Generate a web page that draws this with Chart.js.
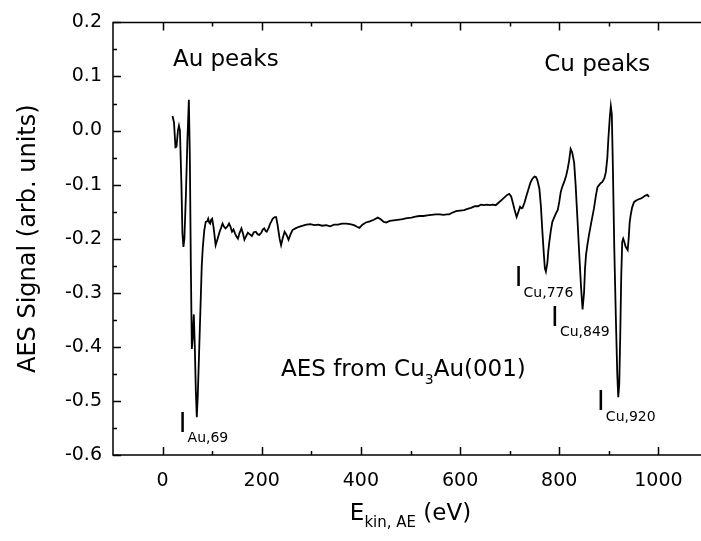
<!DOCTYPE html>
<html>
<head>
<meta charset="utf-8">
<script src="https://cdn.jsdelivr.net/npm/chart.js@4.4.1/dist/chart.umd.min.js"></script>
<style>
  html, body { margin: 0; padding: 0; background: #fff; overflow: hidden; }
  canvas { display: block; }
</style>
</head>
<body>
<canvas id="aesChart" width="720" height="541" style="width:720px;height:541px"></canvas>
<script>
// kinetic energy (eV) and AES signal
const energy = [20, 23, 26, 28, 31, 33, 35, 38, 40, 42, 44, 47, 50, 53, 55, 57, 59, 61, 63, 65, 67, 69, 71, 74, 77, 79, 81, 84, 87, 90, 92, 94, 96, 98, 100, 103, 107, 111, 115, 118, 121, 124, 127, 131, 134, 137, 140, 143, 146, 149, 152, 155, 159, 162, 165, 168, 172, 176, 180, 184, 188, 192, 195, 199, 202, 205, 208, 210, 214, 217, 219, 222, 226, 229, 232, 236, 239, 242, 246, 250, 254, 258, 262, 268, 275, 283, 290, 298, 306, 314, 322, 330, 338, 346, 354, 362, 370, 378, 386, 392, 397, 403, 410, 418, 426, 434, 440, 446, 451, 458, 466, 474, 484, 493, 502, 510, 518, 526, 534, 542, 551, 559, 567, 573, 578, 584, 592, 600, 608, 615, 622, 630, 636, 642, 648, 654, 660, 666, 672, 678, 683, 689, 695, 699, 703, 706, 710, 714, 717, 721, 724, 726, 730, 734, 738, 742, 746, 750, 753, 756, 760, 763, 766, 769, 771, 773, 776, 778, 780, 783, 786, 790, 794, 797, 800, 803, 806, 810, 814, 817, 820, 823, 826, 830, 833, 837, 841, 844, 847, 850, 852, 854, 857, 860, 865, 870, 874, 877, 881, 884, 887, 891, 894, 897, 899, 902, 904, 906, 908, 911, 914, 917, 919, 921, 923, 925, 927, 929, 931, 934, 938, 940, 942, 944, 947, 951, 956, 960, 964, 968, 972, 975, 978, 981];
const signal = [0.027, 0.015, -0.031, -0.030, 0.000, 0.009, 0.000, -0.100, -0.190, -0.215, -0.200, -0.120, -0.020, 0.057, -0.050, -0.250, -0.404, -0.380, -0.340, -0.400, -0.480, -0.530, -0.490, -0.400, -0.310, -0.250, -0.218, -0.185, -0.169, -0.168, -0.163, -0.170, -0.172, -0.165, -0.163, -0.180, -0.212, -0.200, -0.187, -0.180, -0.172, -0.178, -0.181, -0.177, -0.172, -0.178, -0.187, -0.183, -0.190, -0.196, -0.200, -0.190, -0.181, -0.190, -0.202, -0.196, -0.189, -0.192, -0.195, -0.188, -0.187, -0.192, -0.193, -0.189, -0.183, -0.181, -0.186, -0.187, -0.180, -0.172, -0.169, -0.163, -0.160, -0.160, -0.175, -0.200, -0.212, -0.200, -0.187, -0.193, -0.202, -0.192, -0.184, -0.181, -0.178, -0.176, -0.174, -0.173, -0.175, -0.174, -0.176, -0.175, -0.177, -0.174, -0.174, -0.172, -0.172, -0.173, -0.175, -0.178, -0.180, -0.174, -0.170, -0.168, -0.165, -0.161, -0.164, -0.169, -0.170, -0.167, -0.166, -0.165, -0.164, -0.162, -0.161, -0.159, -0.158, -0.158, -0.157, -0.156, -0.155, -0.155, -0.156, -0.155, -0.155, -0.152, -0.149, -0.148, -0.147, -0.145, -0.143, -0.140, -0.140, -0.137, -0.138, -0.137, -0.138, -0.137, -0.138, -0.133, -0.129, -0.124, -0.119, -0.117, -0.122, -0.132, -0.147, -0.160, -0.152, -0.141, -0.144, -0.143, -0.133, -0.120, -0.108, -0.096, -0.089, -0.085, -0.086, -0.092, -0.108, -0.140, -0.187, -0.230, -0.255, -0.261, -0.245, -0.222, -0.206, -0.185, -0.169, -0.160, -0.152, -0.147, -0.132, -0.114, -0.104, -0.095, -0.083, -0.071, -0.055, -0.034, -0.040, -0.059, -0.100, -0.169, -0.240, -0.290, -0.331, -0.300, -0.255, -0.230, -0.210, -0.193, -0.168, -0.144, -0.120, -0.105, -0.100, -0.097, -0.095, -0.088, -0.077, -0.050, -0.016, 0.025, 0.045, 0.030, -0.060, -0.218, -0.340, -0.450, -0.493, -0.470, -0.380, -0.270, -0.206, -0.200, -0.205, -0.215, -0.221, -0.200, -0.170, -0.157, -0.142, -0.132, -0.129, -0.127, -0.126, -0.124, -0.121, -0.120, -0.119, -0.123];

// axis ticks
const xTicks = [0, 200, 400, 600, 800, 1000];
const xMinorTicks = [100, 300, 500, 700, 900];
const yTicks = [-0.6, -0.5, -0.4, -0.3, -0.2, -0.1, 0.0, 0.1, 0.2];
const yMinorTicks = [-0.55, -0.45, -0.35, -0.25, -0.15, -0.05, 0.05, 0.15];

// peak markers: "I" + subscript, anchored at energy / signal
const peakNames = ["Au,69", "Cu,776", "Cu,849", "Cu,920"];
const peakMarkX = [40.3, 717.9, 791.2, 883.9];
const peakMarkY = [-0.557, -0.288, -0.361, -0.517];

const FONT = '"DejaVu Sans", sans-serif';

const decorations = {
    id: "decorations",
    afterDraw(chart) {
        const ctx = chart.ctx;
        const a = chart.chartArea;
        const xs = chart.scales.x;
        const ys = chart.scales.y;
        ctx.save();
        ctx.strokeStyle = "#000";
        ctx.fillStyle = "#000";
        ctx.lineWidth = 1.5;
        // frame: left, top, bottom (right side lies past the window edge)
        ctx.beginPath();
        ctx.moveTo(a.right, a.top);
        ctx.lineTo(a.left, a.top);
        ctx.lineTo(a.left, a.bottom);
        ctx.lineTo(a.right, a.bottom);
        ctx.stroke();

        // inward ticks: bottom, top and left
        ctx.beginPath();
        const tickX = (vals, len) => vals.forEach(v => {
            const px = Math.round(xs.getPixelForValue(v)) + 0.5;
            ctx.moveTo(px, a.bottom); ctx.lineTo(px, a.bottom - len);
            ctx.moveTo(px, a.top); ctx.lineTo(px, a.top + len);
        });
        const tickY = (vals, len) => vals.forEach(v => {
            const py = Math.round(ys.getPixelForValue(v)) + 0.5;
            ctx.moveTo(a.left, py); ctx.lineTo(a.left + len, py);
        });
        tickX(xTicks, 8); tickX(xMinorTicks, 4);
        tickY(yTicks, 8); tickY(yMinorTicks, 4);
        ctx.stroke();

        ctx.textBaseline = "alphabetic";
        ctx.textAlign = "left";
        // group labels
        ctx.font = "23px " + FONT;
        ctx.fillText("Au peaks", xs.getPixelForValue(20.8), ys.getPixelForValue(0.119));
        ctx.fillText("Cu peaks", xs.getPixelForValue(769.7), ys.getPixelForValue(0.110));

        // AES from Cu3Au(001)
        let px = xs.getPixelForValue(239);
        let py = ys.getPixelForValue(-0.453);
        ctx.font = "23px " + FONT;
        ctx.fillText("AES from Cu", px, py);
        px += ctx.measureText("AES from Cu").width;
        ctx.font = "14px " + FONT;
        ctx.fillText("3", px, py + 8);
        px += ctx.measureText("3").width;
        ctx.font = "23px " + FONT;
        ctx.fillText("Au(001)", px, py);

        // peak markers
        peakNames.forEach((name, i) => {
            const mx = xs.getPixelForValue(peakMarkX[i]);
            const my = ys.getPixelForValue(peakMarkY[i]);
            ctx.font = "26px " + FONT;
            ctx.textAlign = "center";
            ctx.fillText("I", mx, my);
            ctx.textAlign = "left";
            ctx.font = "14px " + FONT;
            ctx.fillText(name, mx + 5, my + 10.5);
        });

        // x axis title with subscript
        const big = "23px " + FONT, small = "15px " + FONT;
        ctx.font = big;
        const wE = ctx.measureText("E").width;
        const wP = ctx.measureText(" (eV)").width;
        ctx.font = small;
        const wS = ctx.measureText("kin, AE").width;
        let tx = (a.left + a.right) / 2 - (wE + wS + wP) / 2;
        const ty = a.bottom + 65;
        ctx.font = big;
        ctx.fillText("E", tx, ty);
        tx += wE;
        ctx.font = small;
        ctx.fillText("kin, AE", tx, ty + 7);
        tx += wS;
        ctx.font = big;
        ctx.fillText(" (eV)", tx, ty);

        // y axis title
        ctx.translate(a.left - 78, (a.top + a.bottom) / 2);
        ctx.rotate(-Math.PI / 2);
        ctx.textAlign = "center";
        ctx.font = "24px " + FONT;
        ctx.fillText("AES Signal (arb. units)", 0, 0);
        ctx.restore();
    }
};

const ctx = document.getElementById("aesChart").getContext("2d");
new Chart(ctx, {
    type: "line",
    data: {
        datasets: [{
            data: energy.map((e, i) => ({ x: e, y: signal[i] })),
            borderColor: "#000",
            borderWidth: 1.8,
            pointRadius: 0,
            tension: 0,
            fill: false
        }]
    },
    options: {
        responsive: false,
        devicePixelRatio: 1,
        animation: false,
        layout: { padding: { top: 19, right: 12, left: 0, bottom: 0 } },
        plugins: { legend: { display: false }, tooltip: { enabled: false } },
        scales: {
            x: {
                type: "linear",
                min: -100,
                max: 1100,
                grid: { display: false, drawTicks: false },
                border: { display: false },
                afterBuildTicks: s => { s.ticks = xTicks.map(v => ({ value: v })); },
                afterFit: s => { s.height = 86; },
                ticks: {
                    color: "#000",
                    padding: 15,
                    maxRotation: 0,
                    autoSkip: false,
                    font: { family: FONT, size: 19 },
                    callback: v => String(v)
                }
            },
            y: {
                type: "linear",
                min: -0.6,
                max: 0.2,
                grid: { display: false, drawTicks: false },
                border: { display: false },
                afterBuildTicks: s => { s.ticks = yTicks.map(v => ({ value: v })); },
                afterFit: s => { s.width = 113; },
                ticks: {
                    color: "#000",
                    padding: 11,
                    autoSkip: false,
                    font: { family: FONT, size: 19 },
                    callback: v => (Math.abs(v) < 1e-9 ? 0 : v).toFixed(1)
                }
            }
        }
    },
    plugins: [decorations]
});
</script>
</body>
</html>
